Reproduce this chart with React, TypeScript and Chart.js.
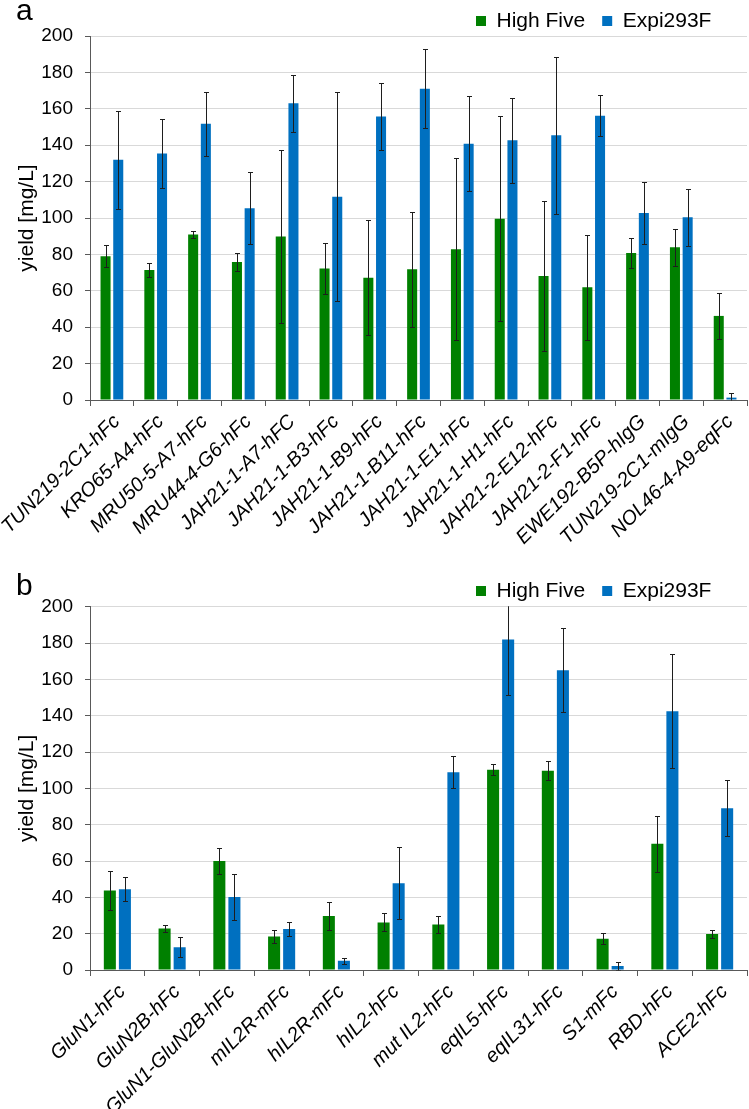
import React, { useEffect, useRef } from 'react';
import { Chart, registerables } from 'chart.js';

Chart.register(...registerables);

const FONT = "'Liberation Sans', Arial, Helvetica, sans-serif";
const GREEN = '#008000';
const BLUE = '#0070C0';
const AXIS = '#595959';
const GRID = '#d9d9d9';

const seriesNames = ['High Five', 'Expi293F'];
const yMin = 0;
const yMax = 200;
const yStep = 20;
const yTitle = 'yield [mg/L]';

// Panel a
const catsA = [
  'TUN219-2C1-hFc', 'KRO65-A4-hFc', 'MRU50-5-A7-hFc', 'MRU44-4-G6-hFc', 'JAH21-1-A7-hFC',
  'JAH21-1-B3-hFc', 'JAH21-1-B9-hFc', 'JAH21-1-B11-hFc', 'JAH21-1-E1-hFc', 'JAH21-1-H1-hFc',
  'JAH21-2-E12-hFc', 'JAH21-2-F1-hFc', 'EWE192-B5P-hIgG', 'TUN219-2C1-mIgG', 'NOL46-4-A9-eqFc',
];
const highFiveA = [79.0, 71.4, 91.0, 75.8, 89.9, 72.2, 67.2, 71.8, 82.8, 99.6, 68.1, 61.9, 80.8, 83.9, 46.2];
const highFiveErrA = [6.0, 3.8, 1.8, 5.1, 47.6, 14.2, 31.6, 31.5, 50.0, 56.2, 41.0, 28.9, 8.2, 10.3, 12.8];
const expiA = [132.0, 135.4, 151.8, 105.3, 163.0, 111.7, 155.8, 171.0, 140.8, 142.7, 145.4, 156.2, 102.7, 100.4, 1.3];
const expiErrA = [27.0, 19.0, 17.6, 19.8, 15.5, 57.3, 18.6, 21.6, 26.0, 23.2, 43.3, 11.4, 17.2, 15.8, 2.4];

// Panel b
const catsB = [
  'GluN1-hFc', 'GluN2B-hFc', 'GluN1-GluN2B-hFc', 'mIL2R-mFc', 'hIL2R-mFc', 'hIL2-hFc',
  'mut IL2-hFc', 'eqIL5-hFc', 'eqIL31-hFc', 'S1-mFc', 'RBD-hFc', 'ACE2-hFc',
];
const highFiveB = [43.7, 22.9, 60.0, 18.5, 29.7, 26.2, 25.0, 110.3, 109.7, 17.2, 69.5, 19.8];
const highFiveErrB = [10.8, 2.0, 7.4, 3.7, 7.8, 5.0, 4.5, 3.2, 5.3, 3.0, 15.3, 2.3];
const expiB = [44.4, 12.5, 40.2, 22.6, 5.1, 47.7, 108.8, 182.0, 165.0, 2.2, 142.4, 89.0];
const expiErrB = [6.6, 5.6, 12.6, 3.7, 1.6, 19.8, 8.8, 30.4, 23.0, 2.3, 31.4, 15.4];

const errorBarPlugin = {
  id: 'errorBars',
  afterDatasetsDraw(chart: any) {
    const { ctx, chartArea } = chart;
    const ys = chart.scales.y;
    ctx.save();
    ctx.beginPath();
    ctx.rect(chartArea.left, chartArea.top - 0.5, chartArea.right - chartArea.left, chartArea.bottom - chartArea.top + 1);
    ctx.clip();
    ctx.strokeStyle = '#1e1e1e';
    ctx.lineWidth = 1;
    chart.data.datasets.forEach((ds: any, i: number) => {
      const meta = chart.getDatasetMeta(i);
      const errs = ds.errors;
      if (!errs || meta.hidden) return;
      meta.data.forEach((bar: any, j: number) => {
        const v = ds.data[j];
        const e = errs[j];
        const x = Math.round(bar.x) + 0.5;
        const yt = Math.round(ys.getPixelForValue(v + e)) + 0.5;
        const yb = Math.round(ys.getPixelForValue(v - e)) + 0.5;
        ctx.beginPath();
        ctx.moveTo(x, yt);
        ctx.lineTo(x, yb);
        ctx.moveTo(x - 2.5, yt);
        ctx.lineTo(x + 2.5, yt);
        ctx.moveTo(x - 2.5, yb);
        ctx.lineTo(x + 2.5, yb);
        ctx.stroke();
      });
    });
    ctx.restore();
  },
};

function legendPlacer(boxX: number, dy: number) {
  return {
    id: 'legendPlacer',
    afterLayout(chart: any) {
      const lg = chart.legend;
      if (!lg || !lg.lineWidths) return;
      lg.right = boxX + lg.lineWidths[0];
      lg.top += dy;
      lg.bottom += dy;
    },
  };
}

type Cfg = {
  catPct: number;
  barPct: number;
  padTop: number;
  xHeight: number;
  legendX: number;
  legendDy: number;
};

function makeConfig(cats: string[], hf: number[], hfErr: number[], ex: number[], exErr: number[], cfg: Cfg): any {
  return {
    type: 'bar',
    data: {
      labels: cats,
      datasets: [
        {
          label: seriesNames[0],
          data: hf,
          errors: hfErr,
          backgroundColor: GREEN,
          borderWidth: 0,
          categoryPercentage: cfg.catPct,
          barPercentage: cfg.barPct,
        },
        {
          label: seriesNames[1],
          data: ex,
          errors: exErr,
          backgroundColor: BLUE,
          borderWidth: 0,
          categoryPercentage: cfg.catPct,
          barPercentage: cfg.barPct,
        },
      ],
    },
    options: {
      responsive: false,
      animation: false,
      devicePixelRatio: 1,
      layout: { padding: { top: cfg.padTop, left: 0, right: 2, bottom: 0 } },
      plugins: {
        legend: {
          display: true,
          position: 'top',
          align: 'end',
          labels: {
            boxWidth: 10,
            boxHeight: 10,
            padding: 17,
            color: '#000',
            font: { family: FONT, size: 21 },
          },
        },
        tooltip: { enabled: false },
      },
      scales: {
        x: {
          grid: {
            display: true,
            offset: true,
            drawOnChartArea: false,
            drawTicks: true,
            tickLength: 6,
            tickColor: AXIS,
            color: AXIS,
          },
          border: { display: true, color: AXIS, width: 1 },
          ticks: {
            autoSkip: false,
            maxRotation: 45,
            minRotation: 45,
            padding: 4,
            labelOffset: 5,
            color: '#000',
            font: { family: FONT, size: 20, style: 'italic' },
          },
          afterFit: (s: any) => {
            s.height = cfg.xHeight;
            s.paddingLeft = 0;
            s.paddingRight = 0;
          },
        },
        y: {
          min: yMin,
          max: yMax,
          ticks: {
            stepSize: yStep,
            padding: 12,
            color: '#000',
            font: { family: FONT, size: 19 },
          },
          grid: { color: GRID, tickColor: AXIS, tickLength: 5, lineWidth: 1 },
          border: { display: true, color: AXIS, width: 1 },
          title: {
            display: true,
            text: yTitle,
            color: '#000',
            font: { family: FONT, size: 21 },
            padding: { top: 15, bottom: 0 },
          },
          afterFit: (s: any) => {
            s.width = 90;
          },
        },
      },
    },
    plugins: [errorBarPlugin, legendPlacer(cfg.legendX, cfg.legendDy)],
  };
}

function Panel(props: {
  top: number;
  height: number;
  cats: string[];
  hf: number[];
  hfErr: number[];
  ex: number[];
  exErr: number[];
  cfg: Cfg;
}) {
  const ref = useRef<HTMLCanvasElement | null>(null);
  useEffect(() => {
    if (!ref.current) return;
    const chart = new Chart(ref.current, makeConfig(props.cats, props.hf, props.hfErr, props.ex, props.exErr, props.cfg));
    return () => chart.destroy();
  }, []);
  return (
    <canvas
      ref={ref}
      width={749}
      height={props.height}
      style={{ position: 'absolute', left: 0, top: props.top, width: 749, height: props.height, display: 'block' }}
    />
  );
}

const letterStyle: React.CSSProperties = {
  position: 'absolute',
  left: 16,
  fontFamily: FONT,
  fontSize: 30,
  lineHeight: 1,
  color: '#000',
  margin: 0,
};

export default function App() {
  return (
    <div
      style={{
        position: 'absolute',
        left: 0,
        top: 0,
        width: 749,
        height: 1109,
        background: '#fff',
        overflow: 'hidden',
      }}
    >
      <Panel
        top={0}
        height={560}
        cats={catsA}
        hf={highFiveA}
        hfErr={highFiveErrA}
        ex={expiA}
        exErr={expiErrA}
        cfg={{ catPct: 0.58, barPct: 0.79, padTop: -12, xHeight: 160, legendX: 476, legendDy: 5.5 }}
      />
      <Panel
        top={560}
        height={549}
        cats={catsB}
        hf={highFiveB}
        hfErr={highFiveErrB}
        ex={expiB}
        exErr={expiErrB}
        cfg={{ catPct: 0.55, barPct: 0.8, padTop: -1.3, xHeight: 139, legendX: 476, legendDy: 4.8 }}
      />
      <div style={{ ...letterStyle, top: -5 }}>a</div>
      <div style={{ ...letterStyle, top: 570 }}>b</div>
    </div>
  );
}
